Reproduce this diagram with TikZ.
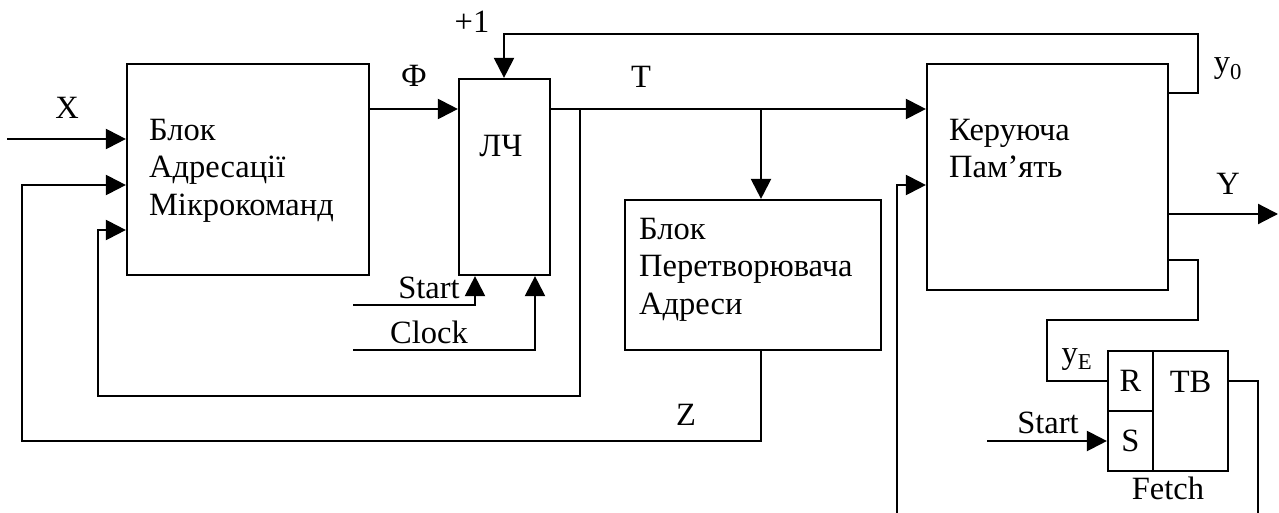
\documentclass[tikz,border=0pt]{standalone}
\usepackage{fontspec}
\setmainfont{Liberation Serif}
\usetikzlibrary{arrows.meta}
\begin{document}
\begin{tikzpicture}[x=1pt,y=-1pt,
  line width=2.2pt,
  box/.style={draw,rectangle,inner sep=0pt,line width=2.2pt},
  arr/.style={-{Triangle[length=20pt,width=20pt]}},
  lbl/.style={inner sep=0pt,anchor=base,font=\fontsize{32.5}{37.5}\selectfont},
  txt/.style={inner sep=0pt,anchor=base west,align=left,font=\fontsize{32.5}{37.5}\selectfont},
  cell/.style={box,font=\fontsize{32.5}{37.5}\selectfont}]
\useasboundingbox (0,0) rectangle (1279,513);

% blocks
\node[box,minimum width=242pt,minimum height=211pt] (b1) at (248,169.5) {};
\node[box,minimum width=91pt,minimum height=196pt] (lc) at (504.5,177) {};
\node[box,minimum width=241pt,minimum height=226pt] (kp) at (1047.5,177) {};
\node[box,minimum width=256pt,minimum height=150pt] (pa) at (753,275) {};
\node[cell,minimum width=45pt,minimum height=60pt] (r) at (1130.5,381) {R};
\node[cell,minimum width=45pt,minimum height=60pt] (s) at (1130.5,441) {S};
\node[box,minimum width=75pt,minimum height=120pt] (tb) at (1190.5,411) {};

% block texts (base = baseline of the last line)
\node[txt] (b1t) at (148,215) {Блок\\Адресації\\Мікрокоманд};
\node[lbl] (lct) at (501,157) {ЛЧ};
\node[txt] (kpt) at (948,178) {Керуюча\\Пам’ять};
\node[txt] (pat) at (638,314) {Блок\\Перетворювача\\Адреси};
\node[lbl] (tbt) at (1190.5,392) {TB};
\node[lbl] (fetch) at (1168,499) {Fetch};

% free ends
\coordinate (xin) at (7,139);
\coordinate (st1) at (353,305);
\coordinate (clk) at (353,350);
\coordinate (st2) at (987,441);
\coordinate (kpin) at (897,513);
\coordinate (yout) at (1278,214);
\coordinate (tbout) at (1258,513);

% connectors
\draw[arr] (xin) -- (b1.west |- xin);
\draw[arr] (b1.east |- 0,109) -- (lc.west |- 0,109);
\draw[arr] (lc.east |- 0,109) -- (kp.west |- 0,109);
\draw[arr] (761,109) -- (pa.north -| 761,0);
\draw[arr] (580,109) -- (580,396) -- (98,396) -- (98,230) -- (b1.west |- 0,230);
\draw[arr] (pa.south -| 761,0) -- (761,441) -- (22,441) -- (22,185) -- (b1.west |- 0,185);
\draw[arr] (kp.east |- 0,93) -- (1198,93) -- (1198,34) -- (504,34) -- (lc.north -| 504,0);
\draw[arr] (st1) -- (475,305) -- (lc.south -| 475,0);
\draw[arr] (clk) -- (535,350) -- (lc.south -| 535,0);
\draw[arr] (kpin) -- (897,185) -- (kp.west |- 0,185);
\draw[arr] (kp.east |- yout) -- (yout);
\draw (kp.east |- 0,260) -- (1198,260) -- (1198,320) -- (1047,320) -- (1047,381) -- (r.west);
\draw[arr] (st2) -- (s.west);
\draw (tb.east |- 0,381) -- (1258,381) -- (tbout);

% labels
\node[lbl] (plus) at (472,33) {+1};
\node[lbl] (phi) at (414,87) {Ф};
\node[lbl] (tl) at (641,88) {T};
\node[lbl] (xl) at (67,119) {X};
\node[lbl] (zl) at (686,425) {Z};
\node[lbl] (stl) at (429,298) {Start};
\node[lbl] (clkl) at (429,343) {Clock};
\node[lbl] (st2l) at (1048,433) {Start};
\node[lbl] (y0l) at (1228,73) {y\textsubscript{0}};
\node[lbl] (yl) at (1228,194) {Y};
\node[lbl] (yel) at (1077,363) {y\textsubscript{E}};
\end{tikzpicture}
\end{document}
